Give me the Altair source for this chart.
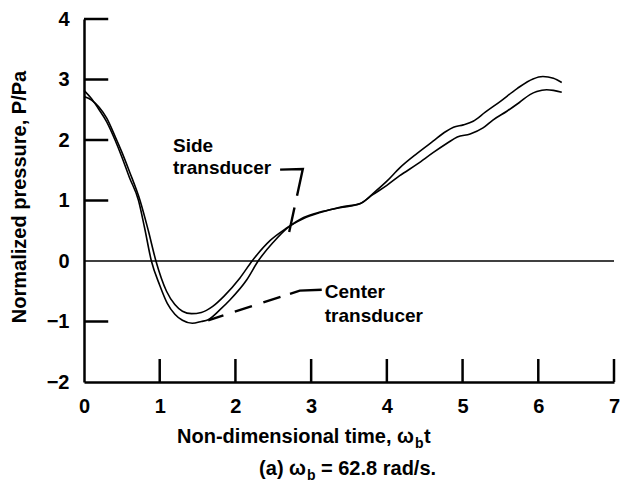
import altair as alt
import pandas as pd

FONT = "Liberation Sans"
W, H = 530, 363

# ---- data ----
x_ticks = [0, 1, 2, 3, 4, 5, 6, 7]
y_ticks = [-2, -1, 0, 1, 2, 3, 4]

center_t = [0, 0.1, 0.2, 0.3, 0.41, 0.5, 0.6, 0.72, 0.8, 0.89,
            1.0, 1.1, 1.2, 1.3, 1.43, 1.55, 1.64, 1.8, 1.93, 2.15,
            2.3, 2.5, 2.68, 2.9, 3.12, 3.38, 3.65, 3.82, 4.0, 4.17,
            4.4, 4.61, 4.78, 4.88, 5.01, 5.14, 5.3, 5.5, 5.72, 5.93,
            6.06, 6.2, 6.31]
center_p = [2.82, 2.68, 2.5, 2.3, 2.0, 1.72, 1.38, 1.0, 0.55, 0.0,
            -0.4, -0.7, -0.88, -0.98, -1.03, -1.0, -0.97, -0.8, -0.64, -0.31,
            0.0, 0.31, 0.54, 0.70, 0.80, 0.89, 0.95, 1.12, 1.32, 1.54,
            1.78, 1.98, 2.14, 2.21, 2.25, 2.31, 2.46, 2.64, 2.85, 3.01,
            3.05, 3.02, 2.95]

side_t = [0, 0.1, 0.2, 0.3, 0.41, 0.5, 0.6, 0.74, 0.85, 0.95,
          1.09, 1.2, 1.3, 1.42, 1.55, 1.7, 1.85, 2.06, 2.22, 2.46,
          2.66, 2.9, 3.12, 3.38, 3.65, 3.82, 4.0, 4.17, 4.4, 4.61,
          4.8, 4.93, 5.1, 5.27, 5.4, 5.59, 5.75, 5.89, 5.98, 6.11,
          6.2, 6.31]
side_p = [2.72, 2.66, 2.54, 2.36, 2.06, 1.8, 1.48, 1.0, 0.5, 0.0,
          -0.5, -0.72, -0.83, -0.87, -0.85, -0.75, -0.58, -0.28, 0.0, 0.34,
          0.53, 0.72, 0.81, 0.88, 0.95, 1.1, 1.25, 1.41, 1.6, 1.79,
          1.95, 2.05, 2.10, 2.2, 2.33, 2.48, 2.62, 2.75, 2.80, 2.83,
          2.82, 2.79]

# annotation leader lines (data coordinates)
side_leader_t = [2.59, 2.89, 2.71]
side_leader_p = [1.51, 1.52, 0.48]
center_leader_t = [1.64, 2.85, 3.14]
center_leader_p = [-0.98, -0.49, -0.475]

annot_text = ["Side", "transducer", "Center", "transducer"]
annot_t = [1.176, 1.176, 3.18, 3.18]
annot_p = [1.80, 1.43, -0.61, -1.0]

Y_TICK_LEN = 0.32   # in x units
X_TICK_LEN = 0.38   # in y units

# ---- tables ----
curves = pd.concat([
    pd.DataFrame({"series": "Center transducer", "t": center_t, "p": center_p}),
    pd.DataFrame({"series": "Side transducer", "t": side_t, "p": side_p}),
])
leaders = pd.concat([
    pd.DataFrame({"which": "side", "t": side_leader_t, "p": side_leader_p, "i": range(3)}),
    pd.DataFrame({"which": "center", "t": center_leader_t, "p": center_leader_p, "i": range(3)}),
])
annots = pd.DataFrame({"label": annot_text, "t": annot_t, "p": annot_p})
yt = pd.DataFrame({"y": [v for v in y_ticks if v not in (-2, 0)]})
yt["x0"] = 0.0
yt["x1"] = Y_TICK_LEN
xt = pd.DataFrame({"x": [v for v in x_ticks if v != 0]})
xt["y0"] = -2.0
xt["y1"] = -2.0 + X_TICK_LEN
zero = pd.DataFrame({"x0": [0.0], "x1": [7.0], "y": [0.0]})

xs = alt.Scale(domain=[0, 7], nice=False, zero=False)
ys = alt.Scale(domain=[-2, 4], nice=False, zero=False)

axis_common = dict(ticks=False, grid=False, domainColor="black", domainWidth=2.5,
                   labelFont=FONT, labelFontSize=20, labelFontWeight="bold",
                   labelColor="black", title=None, labelFlush=False, labelOverlap=False)
XA = alt.Axis(values=x_ticks, labelPadding=14, **axis_common)
YA = alt.Axis(values=y_ticks, labelPadding=15, **axis_common)


def X(field):
    return alt.X(field, scale=xs, axis=XA)


def Y(field):
    return alt.Y(field, scale=ys, axis=YA)


lines = alt.Chart(curves).mark_line(color="black", strokeWidth=1.6, interpolate="monotone").encode(
    x=X("t:Q"), y=Y("p:Q"), detail="series:N",
)

zero_line = alt.Chart(zero).mark_rule(color="black", strokeWidth=1.4).encode(
    x=X("x0:Q"), x2="x1:Q", y=Y("y:Q"),
)

yticks = alt.Chart(yt).mark_rule(color="black", strokeWidth=2.5).encode(
    x=X("x0:Q"), x2="x1:Q", y=Y("y:Q"),
)
xticks = alt.Chart(xt).mark_rule(color="black", strokeWidth=2.5).encode(
    x=X("x:Q"), y=Y("y0:Q"), y2="y1:Q",
)

side_lead = alt.Chart(leaders[leaders.which == "side"]).mark_line(
    color="black", strokeWidth=2.4, strokeDash=[50, 12, 100]).encode(
    x=X("t:Q"), y=Y("p:Q"), order="i:Q")
center_lead = alt.Chart(leaders[leaders.which == "center"]).mark_line(
    color="black", strokeWidth=2.4, strokeDash=[16, 12, 18, 12, 18, 10, 60]).encode(
    x=X("t:Q"), y=Y("p:Q"), order="i:Q")

annot = alt.Chart(annots).mark_text(font=FONT, fontSize=19, fontWeight="bold", color="black",
                                    align="left", baseline="alphabetic").encode(
    x=X("t:Q"), y=Y("p:Q"), text="label:N")


def label(text, x, y, size=20, align="left", angle=0, baseline="alphabetic"):
    return alt.Chart(pd.DataFrame({"v": [0]})).mark_text(
        text=text, font=FONT, fontSize=size, fontWeight="bold", color="black",
        align=align, baseline=baseline, angle=angle).encode(x=alt.value(x), y=alt.value(y))


titles = [
    label("Normalized pressure, P/Pa", -64, 178, align="center", angle=270, baseline="middle"),
    label("Non-dimensional time, \u03c9", 330, 424, align="right"),
    label("b", 331, 429, size=14),
    label("t", 340, 424),
    label("(a) \u03c9", 222, 456, align="right"),
    label("b", 223, 461, size=14),
    label("= 62.8 rad/s.", 237, 456),
]

chart = alt.layer(lines, zero_line, yticks, xticks, side_lead, center_lead, annot, *titles).properties(
    width=W, height=H,
    padding={"left": 76, "top": 11, "right": 10, "bottom": 101},
    autosize="none",
    background="white",
).configure_view(stroke=None)

chart.save("out.html", embed_options={"renderer": "svg", "actions": False})
